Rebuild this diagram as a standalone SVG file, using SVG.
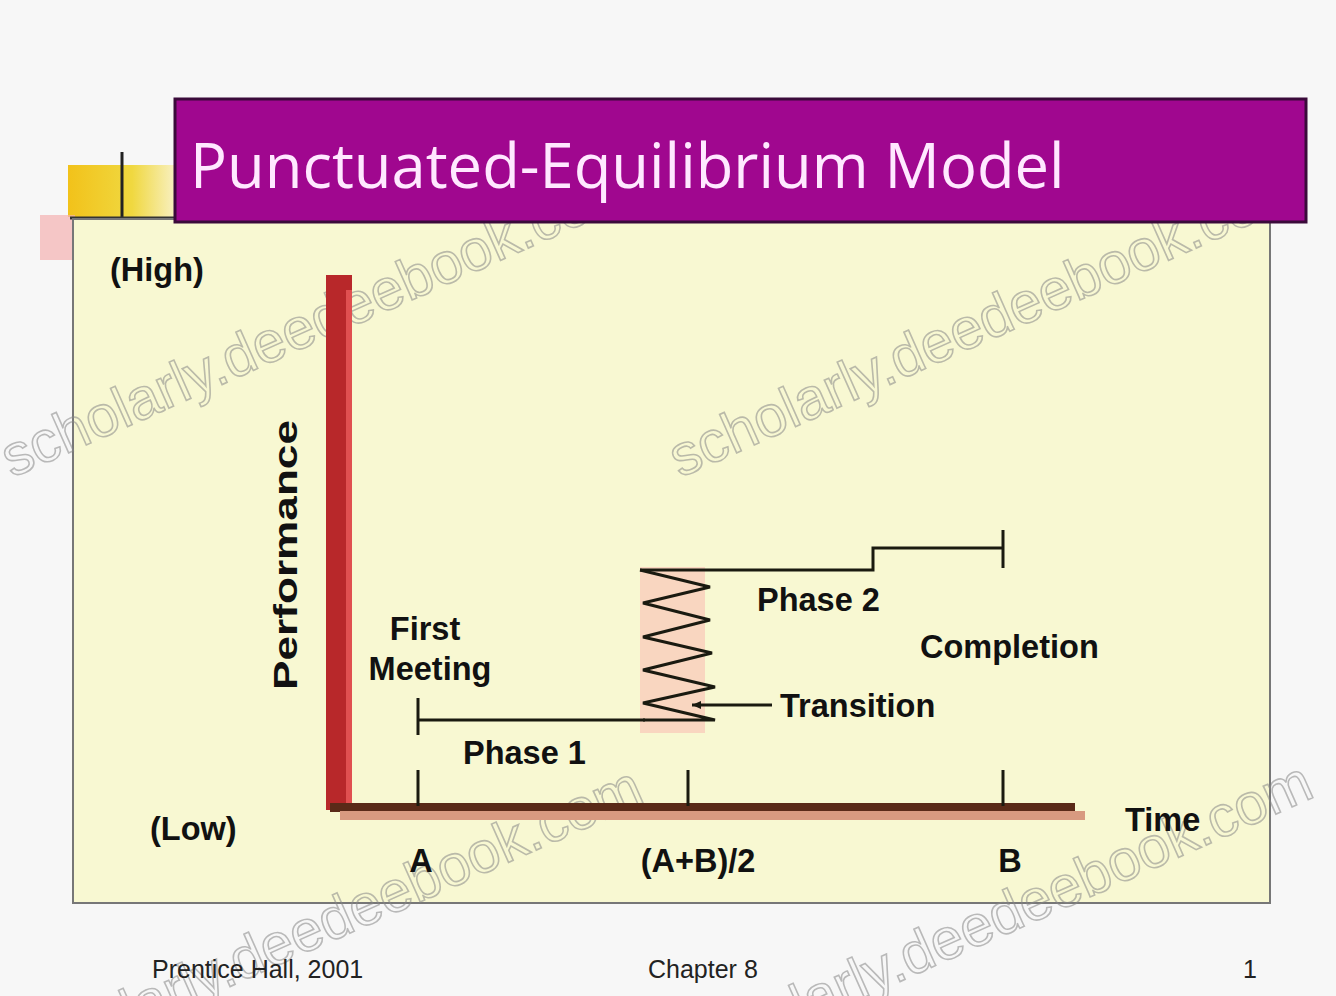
<svg xmlns="http://www.w3.org/2000/svg" width="1336" height="996" viewBox="0 0 1336 996">
<defs>
<style>
.lbl{font-family:"Liberation Sans",Arial,sans-serif;font-weight:bold;fill:#111;font-size:32.5px}
.foot{font-family:"Liberation Sans",Arial,sans-serif;fill:#222;font-size:25px}
.wm{font-family:"Liberation Sans",Arial,sans-serif;font-size:58px;fill:none;stroke:#888;stroke-width:1.6;opacity:0.55}
.ln{stroke:#1a1a10;stroke-width:3;fill:none}
</style>
<linearGradient id="gold" x1="0" y1="0" x2="1" y2="0">
<stop offset="0" stop-color="#f2c21a"/>
<stop offset="0.6" stop-color="#f0d840"/>
<stop offset="1" stop-color="#f8f0c0"/>
</linearGradient>
<marker id="arr" markerWidth="10" markerHeight="10" refX="1" refY="5" orient="auto" markerUnits="userSpaceOnUse">
<path d="M10,1 L1,5 L10,9 Z" fill="#1a1a10"/>
</marker>
</defs>
<rect width="1336" height="996" fill="#f7f7f7"/>

<g id="decoration">
<rect x="68" y="165" width="107" height="52" fill="url(#gold)"/>
<rect x="40" y="215" width="35" height="45" fill="#f4b0b0" opacity="0.7"/>
<line x1="122" y1="152" x2="122" y2="218" stroke="#222" stroke-width="3"/>
<line x1="70" y1="218" x2="178" y2="218" stroke="#333" stroke-width="3"/>
</g>

<g id="panel">
<rect x="73" y="219" width="1197" height="684" fill="#f8f8d2" stroke="#777" stroke-width="2"/>
</g>

<g id="watermarks">
<text class="wm" transform="translate(12,478) rotate(-24)">scholarly.deedeebook.com</text>
<text class="wm" transform="translate(680,478) rotate(-24)">scholarly.deedeebook.com</text>
<text class="wm" transform="translate(20,1080) rotate(-24)">scholarly.deedeebook.com</text>
<text class="wm" transform="translate(690,1075) rotate(-24)">scholarly.deedeebook.com</text>
</g>

<g id="title">
<rect x="175" y="99" width="1131" height="123" fill="#a0078f" stroke="#3a0a3a" stroke-width="3"/>
<text x="190" y="188" font-family="'Open Sans','Liberation Sans',sans-serif" font-size="61.5" fill="#ffe8ff">Punctuated-Equilibrium Model</text>
</g>

<g id="axes">
<rect x="326" y="275" width="26" height="535" fill="#b8282a"/>
<rect x="346" y="290" width="6" height="520" fill="#e05050"/>
<rect x="330" y="803" width="745" height="9" fill="#5a2a18"/>
<rect x="340" y="811" width="745" height="9" fill="#d89a80"/>
<line class="ln" x1="418" y1="770" x2="418" y2="806"/>
<line class="ln" x1="688" y1="770" x2="688" y2="806"/>
<line class="ln" x1="1003" y1="770" x2="1003" y2="806"/>
</g>

<g id="connectors">
<rect x="640" y="567" width="65" height="166" fill="#f9d6c0"/>
<line class="ln" x1="418" y1="698" x2="418" y2="735"/>
<line class="ln" x1="418" y1="720" x2="645" y2="720"/>
<polyline class="ln" stroke="#4a2a10" points="640,570 710,587 643,603 710,620 643,637 712,653 643,670 715,687 643,703 715,720 643,720"/>
<polyline class="ln" points="640,570 873,570 873,548 1003,548"/>
<line class="ln" x1="1003" y1="530" x2="1003" y2="568"/>
<line class="ln" x1="692" y1="705" x2="772" y2="705" marker-start="url(#arr)"/>
</g>

<g id="labels">
<text class="lbl" x="110" y="281">(High)</text>
<text class="lbl" x="150" y="840">(Low)</text>
<text class="lbl" x="-135" y="0" font-size="50" textLength="270" lengthAdjust="spacingAndGlyphs" transform="translate(297,555) rotate(-90)">Performance</text>
<text class="lbl" x="1125" y="831">Time</text>
<text class="lbl" x="421" y="872" text-anchor="middle">A</text>
<text class="lbl" x="698" y="872" text-anchor="middle">(A+B)/2</text>
<text class="lbl" x="1010" y="872" text-anchor="middle">B</text>
<text class="lbl" x="425" y="640" text-anchor="middle">First</text>
<text class="lbl" x="430" y="680" text-anchor="middle">Meeting</text>
<text class="lbl" x="463" y="764">Phase 1</text>
<text class="lbl" x="757" y="611">Phase 2</text>
<text class="lbl" x="920" y="658">Completion</text>
<text class="lbl" x="780" y="717">Transition</text>
</g>

<g id="footer">
<text class="foot" x="152" y="978">Prentice Hall, 2001</text>
<text class="foot" x="648" y="978">Chapter 8</text>
<text class="foot" x="1243" y="978">1</text>
</g>
</svg>
